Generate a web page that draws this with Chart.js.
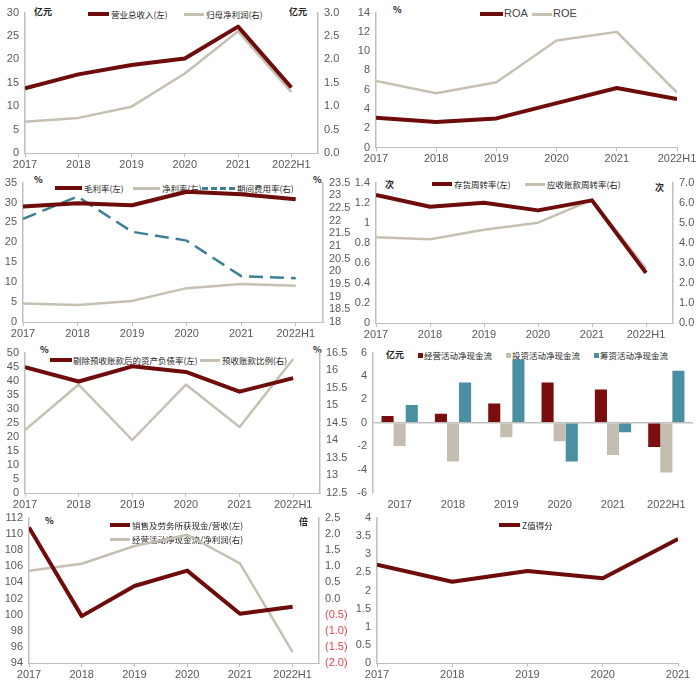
<!DOCTYPE html>
<html>
<head>
<meta charset="utf-8">
<script src="https://cdn.jsdelivr.net/npm/chart.js@4"></script>
<style>
    body { margin: 0; background: #fff; }
    #wrap { position: relative; width: 700px; height: 682px; overflow: hidden; }
    #wrap canvas { position: absolute; }
    .lg { position: absolute; font: 8.5px 'Noto Sans CJK SC', sans-serif; color: #222; line-height: 12px; white-space: nowrap; }
    .lg.en { font: 11px 'Liberation Sans', Arial, sans-serif; color: #444; }
    .unit { position: absolute; font: bold 9px 'Noto Sans CJK SC', serif; color: #222; line-height: 12px; white-space: nowrap; }
    .sw { position: absolute; display: block; }
    .sw.red { height: 4px; background: #6E0B0B; }
    .sw.gray { height: 3px; background: #C6C0B2; }
    .sw.dash { height: 0; border-top: 3px dashed #3C8193; }
    .sq { position: absolute; display: block; width: 5px; height: 5px; }
</style>
</head>
<body>
<div id="wrap">
    <!-- panel 1 -->
    <span class="unit" style="left:34px;top:6px">亿元</span>
    <span class="unit" style="left:289px;top:6px">亿元</span>
    <i class="sw red" style="left:88px;top:12px;width:21px"></i>
    <span class="lg" style="left:111px;top:8px">营业总收入(左)</span>
    <i class="sw gray" style="left:184px;top:13px;width:20px"></i>
    <span class="lg" style="left:206px;top:8px">归母净利润(右)</span>
    <canvas id="c1" width="350" height="170" style="left:0;top:0"></canvas>

    <!-- panel 2 -->
    <span class="unit" style="left:393px;top:4px">%</span>
    <i class="sw red" style="left:480px;top:12px;width:23px"></i>
    <span class="lg en" style="left:504px;top:7px">ROA</span>
    <i class="sw gray" style="left:532px;top:13px;width:20px"></i>
    <span class="lg en" style="left:553px;top:7px">ROE</span>
    <canvas id="c2" width="350" height="170" style="left:350px;top:0"></canvas>

    <!-- panel 3 -->
    <span class="unit" style="left:34px;top:174px">%</span>
    <span class="unit" style="left:313px;top:174px">%</span>
    <i class="sw red" style="left:55px;top:186px;width:27px"></i>
    <span class="lg" style="left:84px;top:182px">毛利率(左)</span>
    <i class="sw gray" style="left:133px;top:187px;width:27px"></i>
    <span class="lg" style="left:162px;top:182px">净利率(左)</span>
    <i class="sw dash" style="left:202px;top:187px;width:33px"></i>
    <span class="lg" style="left:237px;top:182px">期间费用率(右)</span>
    <canvas id="c3" width="350" height="170" style="left:0;top:170px"></canvas>

    <!-- panel 4 -->
    <span class="unit" style="left:385px;top:179px">次</span>
    <span class="unit" style="left:655px;top:182px">次</span>
    <i class="sw red" style="left:432px;top:182px;width:20px"></i>
    <span class="lg" style="left:454px;top:178px">存货周转率(左)</span>
    <i class="sw gray" style="left:525px;top:183px;width:20px"></i>
    <span class="lg" style="left:547px;top:178px">应收账款周转率(右)</span>
    <canvas id="c4" width="350" height="170" style="left:350px;top:170px"></canvas>

    <!-- panel 5 -->
    <span class="unit" style="left:40px;top:344px">%</span>
    <span class="unit" style="left:313px;top:344px">%</span>
    <i class="sw red" style="left:50px;top:358px;width:22px"></i>
    <span class="lg" style="left:73px;top:354px">剔除预收账款后的资产负债率(左)</span>
    <i class="sw gray" style="left:200px;top:359px;width:20px"></i>
    <span class="lg" style="left:222px;top:354px">预收账款比例(右)</span>
    <canvas id="c5" width="350" height="170" style="left:0;top:340px"></canvas>

    <!-- panel 6 -->
    <span class="unit" style="left:386px;top:349px">亿元</span>
    <i class="sq" style="left:418px;top:353px;background:#7A0E0E"></i>
    <span class="lg" style="left:424px;top:349px">经营活动净现金流</span>
    <i class="sq" style="left:506px;top:353px;background:#C4BEB0"></i>
    <span class="lg" style="left:512px;top:349px">投资活动净现金流</span>
    <i class="sq" style="left:594px;top:353px;background:#4A8FA2"></i>
    <span class="lg" style="left:600px;top:349px">筹资活动净现金流</span>
    <canvas id="c6" width="350" height="170" style="left:350px;top:340px"></canvas>

    <!-- panel 7 -->
    <span class="unit" style="left:45px;top:515px">%</span>
    <span class="unit" style="left:299px;top:516px">倍</span>
    <i class="sw red" style="left:110px;top:523px;width:20px"></i>
    <span class="lg" style="left:132px;top:519px">销售及劳务所获现金/营收(左)</span>
    <i class="sw gray" style="left:110px;top:538px;width:20px"></i>
    <span class="lg" style="left:132px;top:533px">经营活动净现金流/净利润(右)</span>
    <canvas id="c7" width="350" height="177" style="left:0;top:505px"></canvas>

    <!-- panel 8 -->
    <i class="sw red" style="left:499px;top:523px;width:21px"></i>
    <span class="lg" style="left:522px;top:519px">Z值得分</span>
    <canvas id="c8" width="350" height="177" style="left:350px;top:505px"></canvas>
</div>

<script>
// ---- data ----
const years = ['2017', '2018', '2019', '2020', '2021', '2022H1'];
const zYears = ['2017', '2018', '2019', '2020', '2021'];

const revenue = [13.8, 16.8, 18.8, 20.2, 27.0, 14.0];          // 亿元, left
const netProfit = [0.67, 0.75, 0.99, 1.70, 2.60, 1.30];        // 亿元, right

const roa = [3.09, 2.65, 3.02, 4.6, 6.17, 5.03];
const roe = [6.91, 5.64, 6.78, 11.1, 12.0, 5.7];

const grossMargin = [29.0, 29.8, 29.3, 32.7, 32.1, 30.8];
const netMargin = [4.66, 4.25, 5.3, 8.5, 9.57, 9.08];
const expenseRatio = [22.07, 22.95, 21.56, 21.21, 19.81, 19.73];

const invTurnover = [1.278, 1.159, 1.20, 1.123, 1.223, 0.50];
const arTurnover = [4.27, 4.18, 4.65, 5.0, 6.14, 2.71];

const adjDebtRatio = [44.8, 39.7, 45.1, 43.1, 36.1, 40.9];
const advanceRatio = [14.29, 15.59, 14.01, 15.59, 14.38, 16.32];

const cfOperating = [0.58, 0.77, 1.66, 3.45, 2.84, -2.07];
const cfInvesting = [-1.99, -3.31, -1.24, -1.57, -2.76, -4.25];
const cfFinancing = [1.52, 3.45, 5.4, -3.31, -0.8, 4.44];

const cashToRevenue = [110.83, 99.82, 103.56, 105.47, 100.11, 100.98];
const ocfToProfit = [0.86, 1.08, 1.63, 1.98, 1.09, -1.66];

const zScore = [2.71, 2.24, 2.54, 2.34, 3.42];

// ---- styles ----
const AXIS = '#BFBFBF';
const TICK = '#595959';
const NEG = '#E0474C';
const RED = '#6E0B0B';
const GRAY = '#C6C0B2';
const TEAL = '#3C8193';
const tickFont = { family: "'Liberation Sans', Arial, sans-serif", size: 11 };

const plain = v => String(+Number(v).toFixed(2));
const oneDec = v => Number(v).toFixed(1);

function pts(values) {
    return values.map((v, i) => ({ x: i, y: v }));
}

function lineSet(values, color, width, axis, dash) {
    return {
        data: pts(values),
        borderColor: color,
        backgroundColor: color,
        borderWidth: width,
        borderDash: dash || [],
        borderJoinStyle: 'round',
        pointRadius: 0,
        tension: 0,
        fill: false,
        yAxisID: axis
    };
}

function xAxis(labels, max, h) {
    return {
        type: 'linear',
        min: 0,
        max: max,
        afterFit: s => { s.height = h; },
        ticks: {
            stepSize: 1,
            includeBounds: false,
            autoSkip: false,
            maxRotation: 0,
            padding: 1,
            font: tickFont,
            color: TICK,
            callback: v => labels[v] ?? ''
        },
        grid: { display: true, drawOnChartArea: false, drawTicks: true, tickLength: 4, color: AXIS },
        border: { display: true, color: AXIS }
    };
}

function yAxis(pos, min, max, step, w, fmt) {
    return {
        type: 'linear',
        position: pos,
        min: min,
        max: max,
        afterFit: s => { s.width = w; },
        ticks: { stepSize: step, autoSkip: false, padding: 6, font: tickFont, color: TICK, callback: fmt || plain },
        grid: { display: false, drawTicks: false },
        border: { display: true, color: AXIS, width: 1.5 }
    };
}

function makeLineChart(id, datasets, scales, pad) {
    return new Chart(document.getElementById(id), {
        type: 'line',
        data: { datasets: datasets },
        options: {
            responsive: false,
            animation: false,
            layout: { padding: pad },
            plugins: { legend: { display: false }, tooltip: { enabled: false } },
            scales: scales
        }
    });
}

// panel 1: revenue & net profit
makeLineChart('c1', [
    lineSet(revenue, RED, 4, 'yL'),
    lineSet(netProfit, GRAY, 2.5, 'yR')
], {
    x: xAxis(years, 5.5, 17),
    yL: yAxis('left', 0, 30, 5, 25),
    yR: yAxis('right', 0, 3, 0.5, 32, oneDec)
}, { top: 7, right: 0, left: 0, bottom: 0 });

// panel 2: ROA / ROE
makeLineChart('c2', [
    lineSet(roa, RED, 4, 'yL'),
    lineSet(roe, GRAY, 2.5, 'yL')
], {
    x: xAxis(years, 5, 22.5),
    yL: yAxis('left', 0, 14, 2, 26)
}, { top: 8, right: 23, left: 0, bottom: 0 });

// panel 3: margins
makeLineChart('c3', [
    lineSet(grossMargin, RED, 4, 'yL'),
    lineSet(netMargin, GRAY, 2.5, 'yL'),
    lineSet(expenseRatio, TEAL, 2.5, 'yR', [14, 7])
], {
    x: xAxis(years, 5.5, 18),
    yL: yAxis('left', 0, 35, 5, 23),
    yR: yAxis('right', 18, 23.5, 0.5, 27)
}, { top: 9, right: 0, left: 0, bottom: 0 });

// panel 4: turnover
makeLineChart('c4', [
    lineSet(invTurnover, RED, 4, 'yL'),
    lineSet(arTurnover, GRAY, 2.5, 'yR')
], {
    x: xAxis(years, 5.5, 17),
    yL: yAxis('left', 0, 1.4, 0.2, 26),
    yR: yAxis('right', 0, 7, 1, 27, oneDec)
}, { top: 8, right: 0, left: 0, bottom: 0 });

// panel 5: debt ratio
makeLineChart('c5', [
    lineSet(adjDebtRatio, RED, 4, 'yL'),
    lineSet(advanceRatio, GRAY, 2.5, 'yR')
], {
    x: xAxis(years, 5.5, 17),
    yL: yAxis('left', 0, 50, 5, 25),
    yR: yAxis('right', 12.5, 16.5, 0.5, 30)
}, { top: 8, right: 0, left: 0, bottom: 0 });

// panel 6: cash flows (bars)
const cfY = yAxis('left', -6, 6, 2, 23);
cfY.grid = { display: true, drawTicks: false, color: ctx => ctx.tick && ctx.tick.value === 0 ? AXIS : 'rgba(0,0,0,0)', lineWidth: 1.5 };
new Chart(document.getElementById('c6'), {
    type: 'bar',
    data: {
        labels: years,
        datasets: [
            { data: cfOperating, backgroundColor: '#7A0E0E' },
            { data: cfInvesting, backgroundColor: '#C4BEB0' },
            { data: cfFinancing, backgroundColor: '#4A8FA2' }
        ]
    },
    options: {
        responsive: false,
        animation: false,
        layout: { padding: { top: 8, right: 7, left: 0, bottom: 0 } },
        plugins: { legend: { display: false }, tooltip: { enabled: false } },
        datasets: { bar: { barPercentage: 1, categoryPercentage: 0.68 } },
        scales: {
            x: {
                offset: true,
                afterFit: s => { s.height = 17; },
                ticks: { padding: 5, font: tickFont, color: TICK, maxRotation: 0 },
                grid: { display: false, drawTicks: false },
                border: { display: false }
            },
            y: cfY
        }
    }
});

// panel 7: cash quality
const negParen = v => v < 0 ? '(' + Math.abs(v).toFixed(1) + ')' : Number(v).toFixed(1);
const p7Right = yAxis('right', -2, 2.5, 0.5, 31, negParen);
p7Right.ticks.color = ctx => ctx.tick && ctx.tick.value < 0 ? NEG : TICK;
makeLineChart('c7', [
    lineSet(cashToRevenue, RED, 4, 'yL'),
    lineSet(ocfToProfit, GRAY, 2.5, 'yR')
], {
    x: xAxis(years, 5.5, 19),
    yL: yAxis('left', 94, 112, 2, 29),
    yR: p7Right
}, { top: 13, right: 0, left: 0, bottom: 0 });

// panel 8: Z score
makeLineChart('c8', [
    lineSet(zScore, RED, 4, 'yL')
], {
    x: xAxis(zYears, 4, 19),
    yL: yAxis('left', 0, 4, 0.5, 27)
}, { top: 13, right: 22, left: 0, bottom: 0 });
</script>
</body>
</html>
